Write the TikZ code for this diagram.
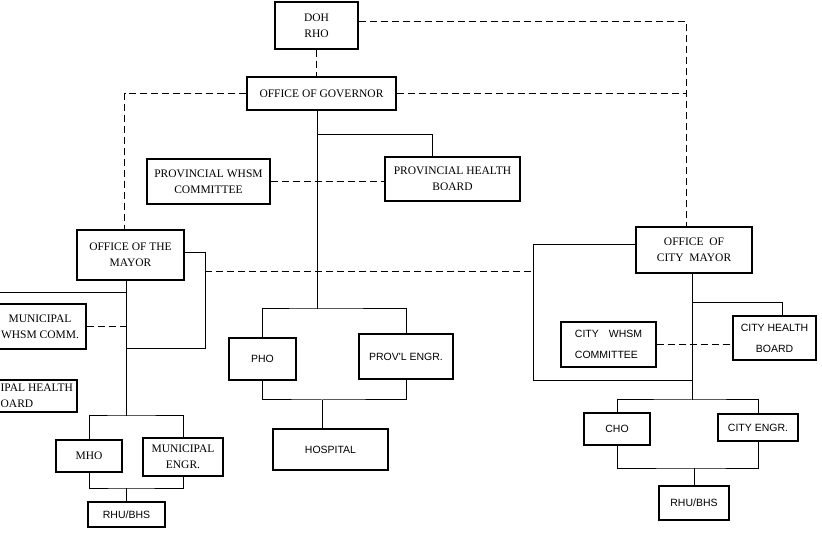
\documentclass[tikz,border=0pt]{standalone}
\usepackage{fontspec}
\setmainfont{Liberation Serif}
\newfontfamily\plainsans{Liberation Sans}
\usepackage{tikz}

\begin{document}
\begin{tikzpicture}[x=1pt, y=-1pt,
    box/.style={draw, line width=1.3pt, inner sep=1pt, align=center, font=\fontsize{11.5}{16}\selectfont},
    sbox/.style={box, font=\plainsans\fontsize{10.5}{16}\selectfont},
    tallbox/.style={box, font=\plainsans\fontsize{10.5}{21}\selectfont},
    link/.style={line width=1pt},
    dlink/.style={line width=1pt, dash pattern=on 7pt off 4pt}]
    \useasboundingbox (0,0) rectangle (822,534);
    % Province
    \node[box, minimum width=83, minimum height=47] (DOH) at (316.5,25.5) {DOH\\RHO};
    \node[box, minimum width=149, minimum height=33] (Gov) at (321.5,93.5) {OFFICE OF GOVERNOR};
    \node[box, minimum width=123, minimum height=45] (PWHSM) at (208.5,181.5) {PROVINCIAL WHSM\\COMMITTEE};
    \node[box, minimum width=135, minimum height=44] (PHB) at (452.5,179) {PROVINCIAL HEALTH\\BOARD};
    \foreach \name/\x/\y/\w/\h/\txt in {PHO/262.5/359/67/42/PHO, PENG/406/356.5/94/45/{PROV'L ENGR.}, HOSP/330.5/449.5/115/41/HOSPITAL} {
        \node[sbox, minimum width=\w, minimum height=\h] (\name) at (\x,\y) {\txt};
    }
    % Municipality
    \node[box, minimum width=107, minimum height=50] (Mayor) at (130.5,255) {OFFICE OF THE\\MAYOR};
    \node[box, minimum width=92, minimum height=45] (MWHSM) at (40,326.5) {MUNICIPAL\\WHSM COMM.};
    \node[box, anchor=west, align=left, inner xsep=4pt, minimum height=32] (MHB) at (-4,396) {IPAL HEALTH\\OARD};
    \node[box, minimum width=66, minimum height=32] (MHO) at (89,456) {MHO};
    \node[box, minimum width=80, minimum height=38] (MENG) at (183,457) {MUNICIPAL\\ENGR.};
    \node[sbox, minimum width=77, minimum height=25] (MRHU) at (126.5,514.5) {RHU/BHS};
    % City
    \node[box, minimum width=116, minimum height=46] (CMayor) at (694,250) {OFFICE\ \ OF\\CITY\ \ MAYOR};
    \node[tallbox, align=left, minimum width=95, minimum height=45] (CWHSM) at (608.5,344.5) {CITY\hspace{10pt}WHSM\\COMMITTEE};
    \node[tallbox, minimum width=83, minimum height=44] (CHB) at (774.5,338) {CITY HEALTH\\BOARD};
    \node[sbox, minimum width=66, minimum height=32] (CHO) at (617,429) {CHO};
    \node[sbox, minimum width=80, minimum height=27] (CENG) at (758,427.5) {CITY ENGR.};
    \node[sbox, minimum width=70, minimum height=34] (CRHU) at (694,503) {RHU/BHS};

    % Province links
    \coordinate (gV) at ([xshift=-4pt]Gov.south);
    \coordinate (pTop) at (gV |- 0,309);
    \coordinate (gHB) at (gV |- 0,135);
    \coordinate (pBot) at (322,400);
    \draw[dlink] (DOH.south) -- (DOH.south |- Gov.north);
    \draw[link] (gV) -- (pTop);
    \draw[link] (PHO.north) |- (pTop) -| (PENG.north);
    \draw[link] (gHB) -| ([xshift=-20pt]PHB.north);
    \draw[dlink] (PWHSM.east) -- (PWHSM.east -| PHB.west);
    \draw[link] (PHO.south) |- (pBot) -| (PENG.south);
    \draw[link] (pBot) -- (pBot |- HOSP.north);
    % Dashed links between offices
    \coordinate (cV0) at ([xshift=-8pt]CMayor.north);
    \coordinate (mDash) at (205,272);
    \coordinate (cDash) at (533,272);
    \draw[dlink] ([yshift=4pt]DOH.east) -| (cV0);
    \draw[dlink] (Gov.east) -- (Gov.east -| cV0);
    \draw[dlink] (Gov.west) -| ([xshift=-6pt]Mayor.north);
    \draw[dlink] (mDash) -- (cDash);
    % Municipality links
    \coordinate (mV) at ([xshift=-4pt]Mayor.south);
    \coordinate (mTop) at (mV |- 0,416);
    \coordinate (mBot) at (mV |- 0,488);
    \coordinate (mR) at (205,349);
    \coordinate (mEdge) at (-2,293);
    \draw[link] (mV) -- (mTop);
    \draw[link] ([yshift=2pt]Mayor.east) -| (mR) -- (mR -| mV);
    \draw[link] (mEdge) -- (mEdge -| mV);
    \draw[dlink] (MWHSM.east) -- (MWHSM.east -| mV);
    \draw[link] (MHO.north) |- (mTop) -| (MENG.north);
    \draw[link] (MHO.south) |- (mBot) -| (MENG.south);
    \draw[link] (mBot) -- (MRHU.north);
    % City links
    \coordinate (cV) at ([xshift=-2pt]CMayor.south);
    \coordinate (cTop) at (cV |- 0,400);
    \coordinate (cL) at (533,381);
    \coordinate (cHB) at (cV |- 0,303);
    \coordinate (cBot) at (CRHU.north |- 0,468);
    \draw[link] (cV) -- (cTop);
    \draw[link] ([yshift=5pt]CMayor.west) -| (cL) -- (cL -| cV);
    \draw[link] (cHB) -| ([xshift=8pt]CHB.north);
    \draw[dlink] (CWHSM.east) -- (CWHSM.east -| CHB.west);
    \draw[link] (CHO.north) |- (cTop) -| (CENG.north);
    \draw[link] (CHO.south) |- (cBot) -| (CENG.south);
    \draw[link] (cBot) -- (CRHU.north);
\end{tikzpicture}
\end{document}
